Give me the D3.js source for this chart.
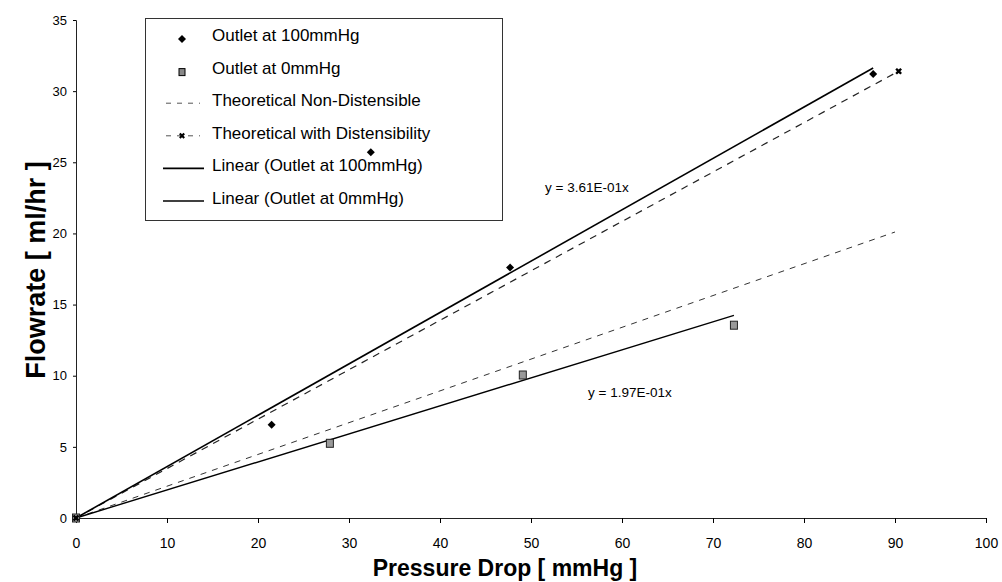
<!DOCTYPE html>
<html><head><meta charset="utf-8">
<script src="https://cdn.jsdelivr.net/npm/d3@7"></script>
<style>
body{margin:0;background:#fff;}
text{font-family:"Liberation Sans",Arial,sans-serif;}
</style></head>
<body>
<svg id="chart" width="1002" height="582"></svg>
<script>
// ---- data ----
const out100X = [0, 21.5, 32.4, 47.7, 87.6];
const out100Y = [0, 6.55, 25.7, 17.6, 31.2];
const out0X = [0, 27.9, 49.1, 72.3];
const out0Y = [0, 5.25, 10.05, 13.55];
const theoNonDistX = [0, 90];
const theoNonDistY = [0, 20.1];
const theoDistX = [0, 90.4];
const theoDistY = [0, 31.4];
const slope100 = 0.361;
const slope0 = 0.197;
const xTicks = [0,10,20,30,40,50,60,70,80,90,100];
const yTicks = [0,5,10,15,20,25,30,35];
const legendLabels = ["Outlet at 100mmHg","Outlet at 0mmHg","Theoretical Non-Distensible","Theoretical with Distensibility","Linear (Outlet at 100mmHg)","Linear (Outlet at 0mmHg)"];
const eqLabels = ["y = 3.61E-01x","y = 1.97E-01x"];

const svg = d3.select("#chart");
const x = d3.scaleLinear().domain([0,100]).range([76,986]);
const y = d3.scaleLinear().domain([0,35]).range([518,20]);

// axes
const xAxis = svg.append("g").attr("transform",`translate(0,${y(0)})`)
  .call(d3.axisBottom(x).tickValues(xTicks).tickSize(5).tickPadding(15));
xAxis.select(".domain").attr("stroke","#222");
xAxis.selectAll("text").attr("font-size",14).attr("fill","#000")
  .style("font-family","'Liberation Sans Narrow','Liberation Sans',Arial,sans-serif")
  .style("font-stretch","condensed");
const yAxis = svg.append("g").attr("transform",`translate(${x(0)},0)`)
  .call(d3.axisLeft(y).tickValues(yTicks).tickSize(3).tickPadding(6));
yAxis.select(".domain").attr("stroke","#222");
yAxis.selectAll("text").attr("font-size",13).attr("fill","#000");

// titles
svg.append("text").attr("x",505).attr("y",576).attr("text-anchor","middle")
  .attr("font-size",23).attr("font-weight","bold").text("Pressure Drop [ mmHg ]");
svg.append("text").attr("transform","translate(45,270) rotate(-90)").attr("text-anchor","middle")
  .attr("font-size",27).attr("font-weight","bold").text("Flowrate [ ml/hr ]");

const line = d3.line().x(d=>x(d[0])).y(d=>y(d[1]));

// theoretical lines
svg.append("path").attr("d",line(d3.zip(theoNonDistX,theoNonDistY)))
  .attr("fill","none").attr("stroke","#333").attr("stroke-width",1).attr("stroke-dasharray","6,6");
svg.append("path").attr("d",line(d3.zip(theoDistX,theoDistY)))
  .attr("fill","none").attr("stroke","#222").attr("stroke-width",1.2).attr("stroke-dasharray","7,6");

// linear fits
const max100 = d3.max(out100X), max0 = d3.max(out0X);
svg.append("path").attr("d",line([[0,0],[max100,slope100*max100]]))
  .attr("fill","none").attr("stroke","#000").attr("stroke-width",1.6);
svg.append("path").attr("d",line([[0,0],[max0,slope0*max0]]))
  .attr("fill","none").attr("stroke","#000").attr("stroke-width",1.4);

// legend
const lg = svg.append("g");
lg.append("rect").attr("x",145.5).attr("y",18.5).attr("width",357).attr("height",202)
  .attr("fill","#fff").attr("stroke","#333").attr("stroke-width",1);
const rowY = i => 35 + i*32.6;
legendLabels.forEach((t,i)=>{
  lg.append("text").attr("x",212).attr("y",rowY(i)+6).attr("font-size",17).attr("fill","#000").text(t);
});
const diamond = "M0,-4L4,0L0,4L-4,0Z";
lg.append("path").attr("d",diamond).attr("transform",`translate(182,${rowY(0)+4})`).attr("fill","#000");
lg.append("rect").attr("x",179).attr("y",rowY(1)+1).attr("width",6).attr("height",7).attr("fill","#888").attr("stroke","#000").attr("stroke-width",1);
lg.append("line").attr("x1",166).attr("x2",200).attr("y1",rowY(2)+3).attr("y2",rowY(2)+3).attr("stroke","#555").attr("stroke-dasharray","5,6");
lg.append("line").attr("x1",166).attr("x2",200).attr("y1",rowY(3)+3).attr("y2",rowY(3)+3).attr("stroke","#555").attr("stroke-dasharray","5,6");
lg.append("path").attr("d",d3.symbol(d3.symbolCross,22)()).attr("transform",`translate(182,${rowY(3)+3}) rotate(45)`).attr("fill","#000");
lg.append("line").attr("x1",163).attr("x2",204).attr("y1",rowY(4)+3).attr("y2",rowY(4)+3).attr("stroke","#000").attr("stroke-width",1.6);
lg.append("line").attr("x1",163).attr("x2",204).attr("y1",rowY(5)+3).attr("y2",rowY(5)+3).attr("stroke","#000").attr("stroke-width",1.4);

// data points
svg.selectAll(".p100").data(d3.zip(out100X,out100Y)).join("path")
  .attr("d",diamond)
  .attr("transform",d=>`translate(${x(d[0])},${y(d[1])})`).attr("fill","#000");
svg.selectAll(".p0").data(d3.zip(out0X,out0Y)).join("rect")
  .attr("x",d=>x(d[0])-3.5).attr("y",d=>y(d[1])-4).attr("width",7).attr("height",8)
  .attr("fill","#999").attr("stroke","#222").attr("stroke-width",1);
svg.selectAll(".pd").data(d3.zip(theoDistX,theoDistY)).join("path")
  .attr("d",d3.symbol(d3.symbolCross,28)())
  .attr("transform",d=>`translate(${x(d[0])},${y(d[1])}) rotate(45)`).attr("fill","#000");

// equations
svg.append("text").attr("x",545).attr("y",192).attr("font-size",13.5).text(eqLabels[0]);
svg.append("text").attr("x",588).attr("y",397).attr("font-size",13.5).text(eqLabels[1]);
</script>
</body></html>
